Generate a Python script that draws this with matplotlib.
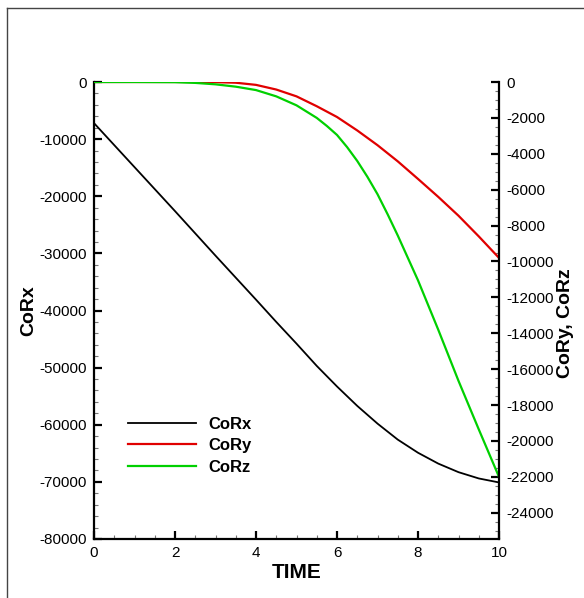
import matplotlib
matplotlib.use("Agg")
import matplotlib.pyplot as plt
from matplotlib.lines import Line2D
from matplotlib.ticker import MultipleLocator

plt.rcParams['font.family'] = ['Liberation Sans', 'DejaVu Sans']
plt.rcParams['axes.unicode_minus'] = False

# ---------------------------------------------------------------------------
# data
# ---------------------------------------------------------------------------
time_x = [0, 1, 2, 3, 4, 4.5, 5, 5.5, 6, 6.5, 7, 7.5, 8, 8.5, 9, 9.5, 10]
corx = [-7200, -14900, -22600, -30400, -38100, -42000, -45800, -49700,
        -53300, -56700, -59800, -62600, -64900, -66800, -68300, -69400,
        -70100]

time_y = [0, 1, 2, 3, 3.5, 4, 4.5, 5, 5.5, 6, 6.5, 7, 7.5, 8, 8.5, 9, 9.5, 10]
cory = [0, 0, 0, -10, -40, -160, -420, -800, -1350, -1950, -2700, -3520,
        -4420, -5400, -6400, -7450, -8600, -9800]

time_z = [0, 1, 2, 2.5, 3, 3.5, 4, 4.5, 5, 5.5, 5.75, 6, 6.25, 6.5, 6.75,
          7, 7.25, 7.5, 8, 8.5, 9, 9.5, 10]
corz = [0, 0, -10, -50, -130, -260, -450, -800, -1300, -2000, -2450, -2950,
        -3630, -4400, -5280, -6250, -7370, -8550, -11050, -13800, -16650,
        -19350, -22000]

RED = "#e00000"
GREEN = "#00d000"

fig = plt.figure(figsize=(5.84, 5.98), dpi=100)
ax = fig.add_axes([94 / 584, 1 - 539 / 598, 405 / 584, 457 / 598])
ax2 = ax.twinx()

l1, = ax.plot(time_x, corx, color="black", lw=1.3, label="CoRx")
l2, = ax2.plot(time_y, cory, color=RED, lw=1.6, label="CoRy")
l3, = ax2.plot(time_z, corz, color=GREEN, lw=1.6, label="CoRz")

ax.set_xlim(0, 10)
ax.set_ylim(-80000, 0)
ax2.set_ylim(-25460, 0)

ax.xaxis.set_major_locator(MultipleLocator(2))
ax.xaxis.set_minor_locator(MultipleLocator(0.5))
ax.yaxis.set_major_locator(MultipleLocator(10000))
ax.yaxis.set_minor_locator(MultipleLocator(2000))
ax2.yaxis.set_major_locator(MultipleLocator(2000))
ax2.yaxis.set_minor_locator(MultipleLocator(500))

for a in (ax, ax2):
    a.spines['top'].set_visible(False)
    for s in a.spines.values():
        s.set_linewidth(1.6)
ax.spines['right'].set_visible(False)
ax2.spines['left'].set_visible(False)
ax2.spines['bottom'].set_visible(False)

ax.tick_params(axis='both', which='major', direction='in', length=6, width=1.6,
               labelsize=11, pad=5, top=False, right=False)
ax.tick_params(axis='both', which='minor', direction='in', length=3, width=0.8,
               color='#777777', top=False, right=False)
ax2.tick_params(axis='y', which='major', direction='in', length=6, width=1.6,
                labelsize=11, pad=5)
ax2.tick_params(axis='y', which='minor', direction='in', length=3, width=0.8,
                color='#777777')

ax.text(0.5, -0.074, "TIME", transform=ax.transAxes, ha='center', va='center',
        fontsize=15, fontweight='bold')
ax.text(-0.160, 0.5, "CoRx", transform=ax.transAxes, ha='center', va='center',
        rotation=90, fontsize=14, fontweight='bold')
ax.text(1.165, 0.473, "CoRy, CoRz", transform=ax.transAxes, ha='center',
        va='center', rotation=90, fontsize=14, fontweight='bold')

ax2.legend([l1, l2, l3], ["CoRx", "CoRy", "CoRz"], loc='upper left',
           bbox_to_anchor=(0.084, 0.267), frameon=False, borderpad=0,
           borderaxespad=0, handlelength=4.1, handletextpad=0.75,
           labelspacing=0.38, prop={'weight': 'bold', 'size': 12})

# slide frame around the picture
fig.add_artist(Line2D([7 / 584, 7 / 584], [0, 1 - 8 / 598],
                      transform=fig.transFigure, color='#444444', lw=1))
fig.add_artist(Line2D([7 / 584, 1], [1 - 8 / 598, 1 - 8 / 598],
                      transform=fig.transFigure, color='#444444', lw=1))

fig.savefig("out.png", dpi=100)
